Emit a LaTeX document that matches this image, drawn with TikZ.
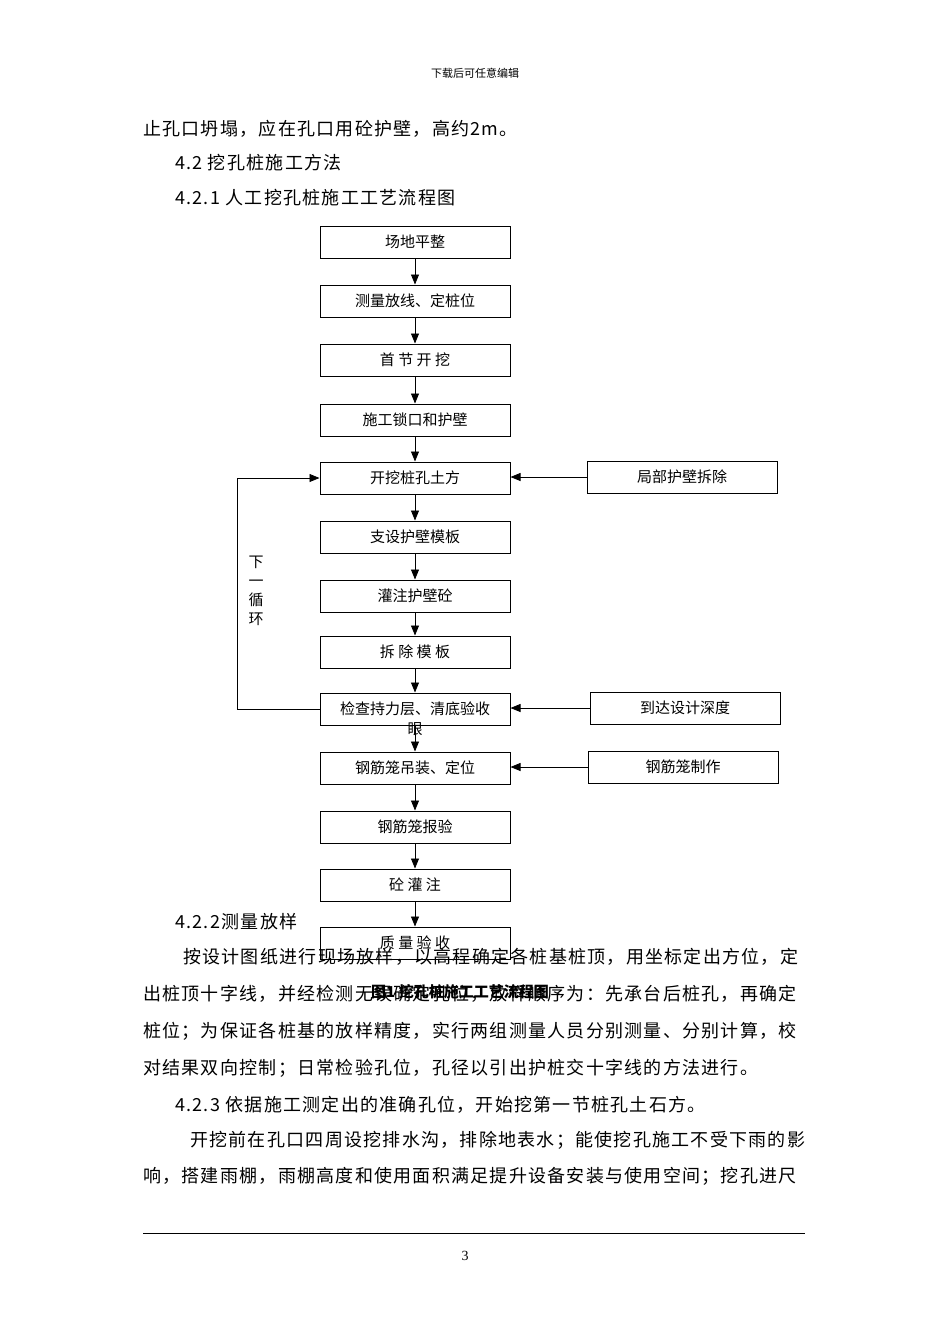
\documentclass[tikz,border=0pt]{standalone}
\usepackage{fontspec}
\setmainfont{Liberation Serif}
\newfontfamily\cjk{Noto Sans CJK SC}
\newfontfamily\cjkb[LetterSpace=7]{Noto Sans CJK SC}
\usetikzlibrary{arrows.meta}
\begin{document}
\begin{tikzpicture}[x=1pt,y=-1pt,
  box/.style={draw,line width=1pt,minimum width=190pt,minimum height=32pt,inner sep=0pt,font=\cjk\fontsize{15}{15}\selectfont},
  arr/.style={-{Triangle[length=10pt,width=8pt]},line width=0.8pt},
  body/.style={anchor=west,inner sep=0pt,font=\cjkb\fontsize{18}{18}\selectfont}]
\useasboundingbox[fill=white] (0,0) rectangle (950,1344);
\node[inner sep=0pt,font=\cjk\fontsize{11}{11}\selectfont] (hdr) at (475,73) {下载后可任意编辑};
\node[body] (l1) at (143,129) {止孔口坍塌，应在孔口用砼护壁，高约2m。};
\node[body] (l2) at (175,163) {4.2 挖孔桩施工方法};
\node[body] (l3) at (175,198) {4.2.1 人工挖孔桩施工工艺流程图};
% flow
\node[box] (b1) at (415,242) {场地平整};
\node[box] (b2) at (415,301) {测量放线、定桩位};
\node[box] (b3) at (415,360) {首\ 节\ 开\ 挖};
\node[box] (b4) at (415,420) {施工锁口和护壁};
\node[box] (b5) at (415,478) {开挖桩孔土方};
\node[box] (b6) at (415,537) {支设护壁模板};
\node[box] (b7) at (415,596) {灌注护壁砼};
\node[box] (b8) at (415,652) {拆\ 除\ 模\ 板};
\node[box] (b9) at (415,709) {检查持力层、清底验收};
\node[inner sep=0pt,font=\cjk\fontsize{15}{15}\selectfont] (yan) at (415,729) {眼};
\node[box] (b10) at (415,768) {钢筋笼吊装、定位};
\node[box] (b11) at (415,827) {钢筋笼报验};
\node[box] (b12) at (415,885) {砼\ 灌\ 注};
\node[box] (b13) at (415,943) {质\ 量\ 验\ 收};
\node[box] (s1) at (682,477) {局部护壁拆除};
\node[box] (s2) at (685,708) {到达设计深度};
\node[box] (s3) at (683,767) {钢筋笼制作};
\foreach \a/\b in {b1/b2,b2/b3,b3/b4,b4/b5,b5/b6,b6/b7,b7/b8,b8/b9,b9/b10,b10/b11,b11/b12,b12/b13}
  \draw[arr] (\a.south) -- (\b.north);
\draw[arr] (s1.west) -- (s1.west -| b5.east);
\draw[arr] (s2.west) -- (s2.west -| b9.east);
\draw[arr] (s3.west) -- (s3.west -| b10.east);
\coordinate (c1) at (237,709);
\coordinate (c2) at (237,478);
\draw[arr] (b9.west) -- (c1) -- (c2) -- (b5.west);
\node[align=center,inner sep=0pt,font=\cjk\fontsize{15}{19}\selectfont] (loop) at (256,591) {下\\一\\循\\环};
% text below
\node[body] (l4) at (175,922) {4.2.2测量放样};
\node[body] (l5) at (183,957) {按设计图纸进行现场放样，以高程确定各桩基桩顶，用坐标定出方位，定};
\node[body] (l6) at (143,994) {出桩顶十字线，并经检测无误确定孔位，放样顺序为：先承台后桩孔，再确定};
\node[inner sep=0pt,font=\cjk\bfseries\fontsize{15}{15}\selectfont] (cap) at (460,992) {图1 挖孔桩施工工艺流程图};
\node[body] (l7) at (143,1031) {桩位；为保证各桩基的放样精度，实行两组测量人员分别测量、分别计算，校};
\node[body] (l8) at (143,1068) {对结果双向控制；日常检验孔位，孔径以引出护桩交十字线的方法进行。};
\node[body] (l9) at (175,1105) {4.2.3 依据施工测定出的准确孔位，开始挖第一节桩孔土石方。};
\node[body] (l10) at (190,1140) {开挖前在孔口四周设挖排水沟，排除地表水；能使挖孔施工不受下雨的影};
\node[body] (l11) at (143,1176) {响，搭建雨棚，雨棚高度和使用面积满足提升设备安装与使用空间；挖孔进尺};
\coordinate (r1) at (143,1233);
\coordinate (r2) at (805,1233);
\draw[line width=1pt] (r1) -- (r2);
\node[inner sep=0pt,font=\fontsize{14}{14}\selectfont] (pg) at (465,1256) {3};
\end{tikzpicture}
\end{document}
